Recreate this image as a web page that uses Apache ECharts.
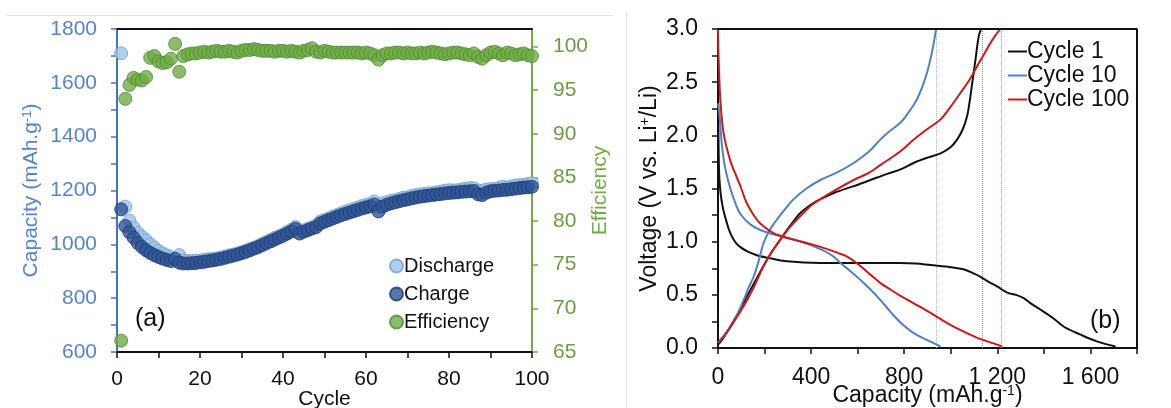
<!DOCTYPE html>
<html>
<head>
<meta charset="utf-8">
<script src="https://cdn.jsdelivr.net/npm/echarts@6/dist/echarts.min.js"></script>
<style>html,body{margin:0;padding:0;background:#fff}#c{width:1171px;height:408px}</style>
</head>
<body>
<div id="c"></div>
<script>
// ---------- Panel (a): cycling data ----------
const cycles = Array.from({length: 100}, (_, i) => i + 1);
const discharge = [1710,1140,1088,1062,1043,1028,1015,1000,988,975,
  966,959,952,943,960,940,938,938,939,940,
  942,945,946,948,951,955,959,962,966,971,
  976,982,987,993,1002,1009,1016,1024,1030,1037,
  1046,1054,1064,1047,1052,1058,1063,1070,1085,1090,
  1096,1103,1109,1115,1121,1126,1131,1136,1142,1146,
  1150,1159,1139,1152,1156,1161,1164,1168,1173,1175,
  1180,1183,1185,1188,1189,1190,1193,1196,1199,1201,
  1200,1201,1204,1207,1209,1208,1200,1199,1204,1205,
  1206,1209,1214,1211,1215,1219,1220,1221,1224,1227];
const charge = [1130,1068,1045,1025,1005,990,978,968,960,953,
  947,942,938,946,932,929,929,930,931,933,
  935,938,940,943,946,950,954,958,962,967,
  972,978,984,990,997,1004,1011,1018,1025,1032,
  1040,1048,1058,1040,1047,1053,1059,1064,1078,1084,
  1090,1096,1102,1108,1113,1118,1123,1128,1133,1137,
  1141,1148,1122,1140,1147,1152,1156,1160,1164,1167,
  1171,1174,1177,1179,1181,1183,1185,1187,1189,1191,
  1192,1193,1195,1196,1197,1198,1186,1183,1192,1197,
  1199,1200,1202,1203,1205,1207,1209,1211,1212,1214];
const efficiency = [66.3,94.0,95.6,96.4,96.2,96.1,96.5,98.7,98.9,98.3,
  98.1,98.2,98.6,100.3,97.1,98.9,99.1,99.2,99.2,99.3,
  99.4,99.3,99.4,99.5,99.4,99.4,99.5,99.4,99.3,99.5,
  99.6,99.6,99.7,99.6,99.5,99.5,99.5,99.4,99.5,99.5,
  99.4,99.5,99.4,99.3,99.5,99.6,99.8,99.4,99.3,99.5,
  99.4,99.3,99.3,99.3,99.3,99.3,99.3,99.3,99.2,99.3,
  99.2,99.0,98.5,99.0,99.2,99.2,99.3,99.3,99.2,99.3,
  99.2,99.2,99.3,99.2,99.3,99.4,99.3,99.2,99.1,99.2,
  99.3,99.3,99.2,99.1,99.0,99.2,98.8,98.6,99.0,99.3,
  99.4,99.2,99.0,99.3,99.2,99.0,99.1,99.2,99.0,98.9];
const effTicks = [65,70,75,80,85,90,95,100];

// ---------- Panel (b): voltage profiles [capacity, voltage] ----------
const cycle1Discharge = [[0,2.6],[4,1.7],[10,1.48],[20,1.33],[35,1.2],[53,1.08],[80,0.98],[124,0.91],[170,0.87],[210,0.85],[297,0.815],[440,0.80],[600,0.80],[783,0.80],[850,0.795],[913,0.78],[1000,0.76],[1055,0.74],[1100,0.70],[1128,0.67],[1165,0.62],[1199,0.58],[1243,0.52],[1280,0.50],[1313,0.47],[1350,0.41],[1386,0.36],[1440,0.28],[1486,0.20],[1558,0.125],[1630,0.06],[1708,0.015]];
const cycle1Charge = [[0,0.03],[25,0.1],[53,0.2],[90,0.34],[124,0.485],[160,0.63],[195,0.77],[230,0.9],[268,1.02],[310,1.15],[354,1.27],[400,1.35],[440,1.40],[500,1.46],[580,1.52],[655,1.58],[730,1.64],[784,1.68],[840,1.74],[900,1.79],[956,1.83],[1000,1.89],[1027,1.96],[1050,2.05],[1070,2.18],[1082,2.33],[1092,2.49],[1106,2.71],[1120,2.93],[1130,3.0]];
const cycle10Discharge = [[0,2.3],[6,2.2],[15,1.95],[24,1.78],[35,1.65],[53,1.5],[75,1.36],[96,1.26],[140,1.16],[182,1.11],[268,1.05],[354,1.00],[440,0.93],[490,0.87],[526,0.80],[570,0.72],[612,0.64],[655,0.55],[698,0.45],[741,0.34],[784,0.24],[841,0.14],[913,0.06],[956,0.015]];
const cycle10Charge = [[0,0.05],[30,0.12],[66,0.24],[110,0.45],[130,0.56],[153,0.67],[175,0.82],[196,0.99],[225,1.12],[254,1.21],[290,1.31],[325,1.40],[380,1.50],[440,1.58],[510,1.65],[583,1.74],[650,1.85],[697,1.96],[727,2.02],[784,2.12],[820,2.22],[855,2.34],[880,2.47],[898,2.59],[915,2.74],[927,2.87],[937,3.0]];
const cycle100Discharge = [[0,3.0],[3,2.7],[10,2.34],[24,2.02],[53,1.76],[80,1.61],[100,1.5],[120,1.38],[150,1.26],[182,1.17],[239,1.08],[325,1.02],[411,0.97],[469,0.93],[520,0.89],[555,0.86],[612,0.77],[655,0.69],[698,0.61],[741,0.55],[784,0.49],[841,0.42],[913,0.33],[985,0.235],[1040,0.17],[1100,0.11],[1160,0.06],[1221,0.015]];
const cycle100Charge = [[0,0.05],[20,0.1],[66,0.24],[125,0.45],[160,0.6],[196,0.77],[230,0.9],[268,1.02],[310,1.14],[354,1.24],[400,1.34],[440,1.40],[500,1.48],[583,1.58],[650,1.65],[697,1.72],[784,1.85],[841,1.96],[900,2.06],[956,2.15],[1000,2.27],[1042,2.40],[1080,2.52],[1113,2.65],[1145,2.77],[1171,2.87],[1192,2.94],[1213,3.0]];
const chargeCapMarks = {'Cycle 1': 1135, 'Cycle 10': 937, 'Cycle 100': 1217};
const capRangeB = [0, 1800];
const voltRangeB = [0, 3];

const FONT = 'Liberation Sans, Arial, sans-serif';
const BLUE_AX = '#4472C4', BLUE_TX = '#5585CC';
const GREEN_AX = '#70AD47', GREEN_TX = '#6A9E3F';
const supRich = (size) => ({ sup: { fontSize: size, verticalAlign: 'top', lineHeight: size, fontFamily: FONT } });

const chart = echarts.init(document.getElementById('c'), null, {renderer: 'canvas'});

function tickCfg(color){ return {show:true, length:6, lineStyle:{color:color, width:1.5}}; }
function minorCfg(color){ return {show:true, splitNumber:2, length:6, lineStyle:{color:color, width:1.5}}; }
function lineCfg(color){ return {show:true, onZero:false, lineStyle:{color:color, width:2}}; }

const cycleColors = {'Cycle 1':'#111111','Cycle 10':'#4F81C7','Cycle 100':'#CC1A1A'};
const markColors = {'Cycle 1':'#8a8a8a','Cycle 10':'#9fb6e0','Cycle 100':'#e58080'};

function lineSeries(name, data, withMark){
  const s = {name:name, type:'line', xAxisIndex:2, yAxisIndex:2, data:data, smooth:0.35,
    showSymbol:false, symbol:'none', lineStyle:{color:cycleColors[name], width:2}, itemStyle:{color:cycleColors[name]}, z:5};
  if (withMark) {
    s.markLine = {silent:true, symbol:'none', label:{show:false},
      lineStyle:{color:markColors[name], type:'dotted', width:1},
      data:[{xAxis: chargeCapMarks[name]}]};
  }
  return s;
}

const option = {
  animation:false,
  textStyle:{fontFamily:FONT},
  graphic:[
    {id:'sepH', type:'line', shape:{x1:7,y1:15.5,x2:613,y2:15.5}, style:{stroke:'#e2e2e2', lineWidth:1}, z:-1},
    {id:'sepV', type:'line', shape:{x1:626.5,y1:12,x2:626.5,y2:408}, style:{stroke:'#e6e6e6', lineWidth:1}, z:-1}
  ],
  title:[
    {text:'(a)', left:130, top:302, textStyle:{fontSize:25, fontWeight:'normal', color:'#111', fontFamily:FONT}},
    {text:'(b)', left:1085, top:304, textStyle:{fontSize:25, fontWeight:'normal', color:'#111', fontFamily:FONT}}
  ],
  legend:[
    {data:['Discharge','Charge','Efficiency'], orient:'vertical', left:384, top:251, icon:'circle',
      itemWidth:13, itemHeight:13, itemGap:8, selectedMode:false,
      textStyle:{fontSize:20, color:'#111', fontFamily:FONT, padding:[0,0,0,-4]}},
    {data:['Cycle 1','Cycle 10','Cycle 100'], orient:'vertical', left:1003, top:35, icon:'rect',
      itemWidth:19, itemHeight:2, itemGap:1, selectedMode:false,
      textStyle:{fontSize:23, color:'#111', fontFamily:FONT, padding:[0,0,0,-5]}}
  ],
  grid:[
    {left:117, right:639, top:29, bottom:56, outerBoundsMode:'none', containLabel:false},
    {left:718, right:34, top:29, bottom:60, outerBoundsMode:'none', containLabel:false}
  ],
  xAxis:[
    {gridIndex:0, type:'value', min:0, max:100, interval:20,
      axisLine:lineCfg('#111'), axisTick:tickCfg('#111'), minorTick:minorCfg('#111'),
      splitLine:{show:false}, axisLabel:{margin:17, fontSize:21, color:'#111'},
      name:'Cycle', nameLocation:'middle', nameGap:37, nameMoveOverlap:false, nameTextStyle:{fontSize:21, color:'#111'}},
    {gridIndex:0, type:'value', position:'top', min:0, max:100,
      axisLine:lineCfg('#111'), axisTick:{show:false}, axisLabel:{show:false}, splitLine:{show:false}},
    {gridIndex:1, type:'value', min:capRangeB[0], max:capRangeB[1], interval:400,
      axisLine:lineCfg('#111'), axisTick:tickCfg('#111'), minorTick:minorCfg('#111'),
      splitLine:{show:false},
      axisLabel:{margin:18, fontSize:23, color:'#111', formatter:(v)=>String(v).replace(/\B(?=(\d{3})+(?!\d))/g,' ')},
      name:'Capacity (mAh.g{sup|-1})', nameLocation:'middle', nameGap:36, nameMoveOverlap:false,
      nameTextStyle:{fontSize:23, color:'#111', rich:supRich(14)}}
  ],
  yAxis:[
    {gridIndex:0, type:'value', min:600, max:1800, interval:200,
      axisLine:lineCfg(BLUE_AX), axisTick:tickCfg(BLUE_AX), minorTick:minorCfg(BLUE_AX),
      splitLine:{show:false}, axisLabel:{margin:20, fontSize:21, color:BLUE_TX, formatter:(v)=>String(v)},
      name:'Capacity (mAh.g{sup|-1})', nameLocation:'middle', nameGap:75, nameMoveOverlap:false,
      nameTextStyle:{fontSize:21, color:BLUE_TX, rich:supRich(13)}},
    {gridIndex:0, type:'value', position:'right', min:65, max:102, interval:5,
      axisLine:lineCfg(GREEN_AX),
      axisTick:{show:true, length:6, lineStyle:{color:GREEN_AX, width:1.5}, customValues:effTicks},
      splitLine:{show:false}, axisLabel:{margin:21, fontSize:21, color:GREEN_TX, customValues:effTicks, formatter:(v)=>String(v)},
      name:'Efficiency', nameLocation:'middle', nameGap:58, nameRotate:90, nameMoveOverlap:false,
      nameTextStyle:{fontSize:21, color:GREEN_AX}},
    {gridIndex:1, type:'value', min:voltRangeB[0], max:voltRangeB[1], interval:0.5,
      axisLine:lineCfg('#111'), axisTick:tickCfg('#111'), minorTick:minorCfg('#111'),
      splitLine:{show:false}, axisLabel:{margin:20, fontSize:23, color:'#111', formatter:(v)=>v.toFixed(1)},
      name:'Voltage (V vs. Li{sup|+}/Li)', nameLocation:'middle', nameGap:57, nameMoveOverlap:false,
      nameTextStyle:{fontSize:23, color:'#111', rich:supRich(14)}}
  ],
  series:[
    {name:'Discharge', type:'scatter', xAxisIndex:0, yAxisIndex:0, symbolSize:13,
      data:cycles.map((c,i)=>[c, discharge[i]]),
      itemStyle:{color:'#9DC3E6', borderColor:'#6F9FD8', borderWidth:1}, z:2},
    {name:'Charge', type:'scatter', xAxisIndex:0, yAxisIndex:0, symbolSize:13,
      data:cycles.map((c,i)=>[c, charge[i]]),
      itemStyle:{color:'#2F5597', borderColor:'#1F3A6E', borderWidth:1}, z:3},
    {name:'Efficiency', type:'scatter', xAxisIndex:0, yAxisIndex:1, symbolSize:13,
      data:cycles.map((c,i)=>[c, efficiency[i]]),
      itemStyle:{color:'#70AD47', borderColor:'#4E8A2E', borderWidth:1}, z:4},
    lineSeries('Cycle 1', cycle1Discharge, false),
    lineSeries('Cycle 1', cycle1Charge, true),
    lineSeries('Cycle 10', cycle10Discharge, false),
    lineSeries('Cycle 10', cycle10Charge, true),
    lineSeries('Cycle 100', cycle100Discharge, false),
    lineSeries('Cycle 100', cycle100Charge, true),
    // top and right frame edges of panel (b), following the axis ranges
    {name:'frameB', type:'line', xAxisIndex:2, yAxisIndex:2, clip:false, silent:true,
      showSymbol:false, symbol:'none', legendHoverLink:false, tooltip:{show:false},
      data:[[capRangeB[0], voltRangeB[1]], [capRangeB[1], voltRangeB[1]], [capRangeB[1], voltRangeB[0]]],
      lineStyle:{color:'#111', width:2}, itemStyle:{color:'#111'}, z:10}
  ]
};
chart.setOption(option);
</script>
</body>
</html>
